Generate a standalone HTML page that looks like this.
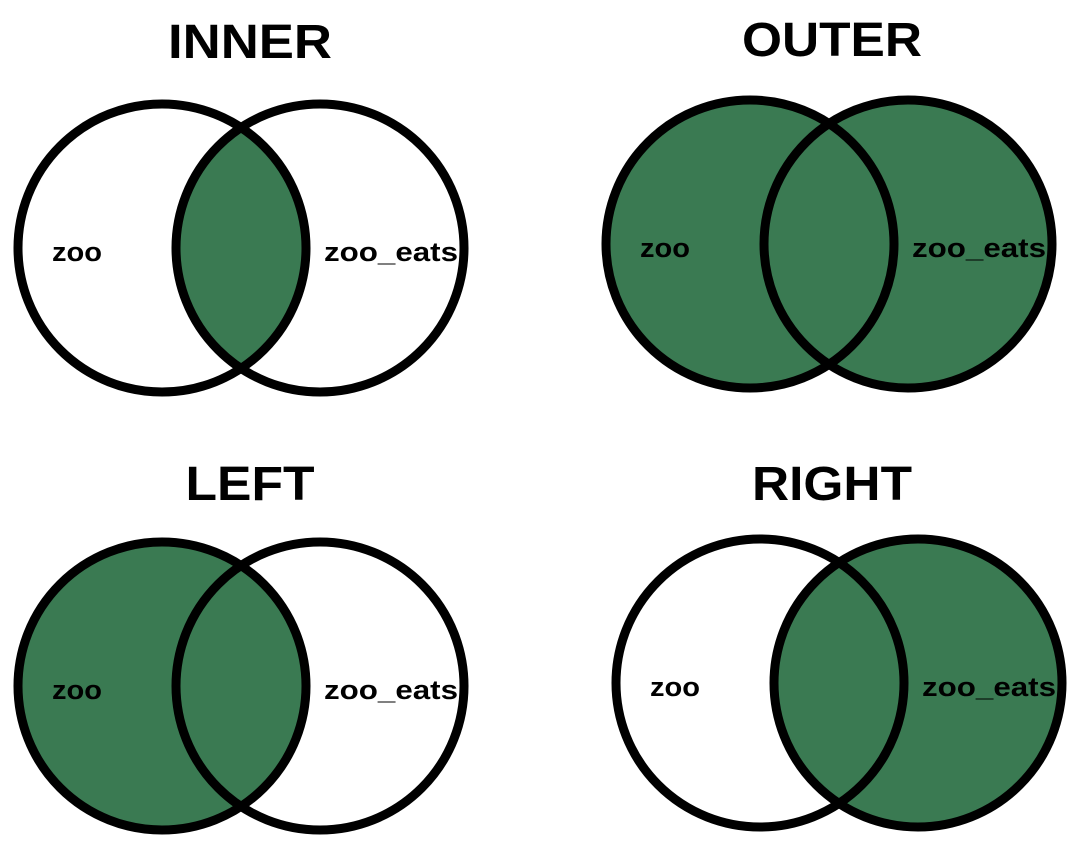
<!DOCTYPE html>
<html><head><meta charset="utf-8"><style>
html,body{margin:0;padding:0;background:#fff;width:1078px;height:851px;overflow:hidden}
svg text{font-family:"Liberation Sans",sans-serif;font-weight:bold;fill:#000}
</style></head><body>
<svg id="chart" width="1078" height="851" viewBox="0 0 1078 851"></svg>
<script>
const titles = ["INNER","OUTER","LEFT","RIGHT"];
const leftLabels = ["zoo","zoo","zoo","zoo"];
const rightLabels = ["zoo_eats","zoo_eats","zoo_eats","zoo_eats"];
const shadeLeftOnly = [false,true,true,false];
const shadeIntersect = [true,true,true,true];
const shadeRightOnly = [false,true,false,true];
const centersX = [162,750,162,760];
const centersY = [248,244,686,683];
const titleX = [250,832,250,832];
const titleY = [58,56,500,500];
const titleW = [164,180,129,160];
const offset = 158, R = 144, SW = 9, GREEN = "#3a7a52";
const NS = "http://www.w3.org/2000/svg";
const svg = document.getElementById('chart');
function mk(tag, attrs, parent){const e=document.createElementNS(NS,tag);for(const k in attrs)e.setAttribute(k,attrs[k]);(parent||svg).appendChild(e);return e;}
const defs = mk('defs',{});
titles.forEach((t,i)=>{
  const cx1=centersX[i], cx2=cx1+offset, cy=centersY[i];
  const g = mk('g',{});
  
  
  const cpA = mk('clipPath',{id:'cA'+i},defs); mk('circle',{cx:cx1,cy:cy,r:R},cpA);
  if(shadeLeftOnly[i]){const c=mk('circle',{cx:cx1,cy:cy,r:R,fill:GREEN},g);}
  if(shadeRightOnly[i]){const c=mk('circle',{cx:cx2,cy:cy,r:R,fill:GREEN},g);}
  if(shadeIntersect[i]){const c=mk('circle',{cx:cx2,cy:cy,r:R,fill:GREEN,'clip-path':'url(#cA'+i+')'},g);}
  const s1=mk('circle',{cx:cx1,cy:cy,r:R,fill:'none',stroke:'#000','stroke-width':SW},g);
  
  
  const s2=mk('circle',{cx:cx2,cy:cy,r:R,fill:'none',stroke:'#000','stroke-width':SW},g);
  
  
  const tt=mk('text',{x:titleX[i]-titleW[i]/2,y:titleY[i],'font-size':48,textLength:titleW[i],lengthAdjust:'spacingAndGlyphs'},g);tt.textContent=t;
  
  
  const l1=mk('text',{x:cx1-110,y:cy+13,'font-size':27,textLength:50,lengthAdjust:'spacingAndGlyphs'},g);l1.textContent=leftLabels[i];
  
  
  const l2=mk('text',{x:cx2+4,y:cy+13,'font-size':27,textLength:134,lengthAdjust:'spacingAndGlyphs'},g);l2.textContent=rightLabels[i];
  
  
});
</script>
</body></html>
